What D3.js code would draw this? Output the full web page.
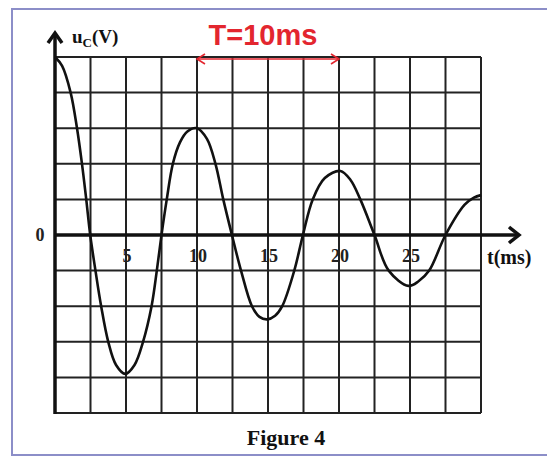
<!DOCTYPE html>
<html>
<head>
<meta charset="utf-8">
<script src="https://cdn.jsdelivr.net/npm/d3@7"></script>
<style>
    html, body { margin: 0; padding: 0; background: #fff; }
    svg { display: block; }
</style>
</head>
<body>
<div class="main"></div>
<script>
"use strict";

// time axis (ms) and voltage in grid divisions
var tValues = [0, 0.5, 1.1, 1.55, 1.9, 2.2, 2.48, 2.85, 3.25, 3.75, 4.3, 4.95, 5.6, 6.2, 6.8, 7.17, 7.5, 7.87, 8.3, 8.8, 9.3, 10,
    10.7, 11.3, 11.85, 12.46, 13.1, 13.87, 14.4, 14.95, 15.5, 16.0, 16.85, 17.46, 18.15, 19.0, 20.1,
    20.8, 21.5, 22.5, 23.5, 24.9, 25.6, 26.35, 27.5, 28.85, 29.5, 30];
var uValues = [5, 4.75, 4, 3, 2, 1, 0, -1, -2, -3, -3.65, -3.9, -3.65, -3, -2, -1, 0, 1, 2, 2.6, 2.9, 3.0,
    2.7, 2, 1, 0, -1, -2, -2.3, -2.37, -2.27, -2, -1, 0, 1, 1.6, 1.8,
    1.55, 1, 0, -1, -1.43, -1.3, -1, 0, 0.85, 1.05, 1.12];
var tickLabels = [5, 10, 15, 20, 25];
var periodStart = 10, periodEnd = 20;

var W = 547, H = 459;

var svg = d3.select('div.main').append('svg')
    .attr('width', W)
    .attr('height', H);

var x = d3.scaleLinear().domain([0, 30]).range([55, 481]);
var y = d3.scaleLinear().domain([-5, 5]).range([413, 57]);

// outer frame
svg.append('rect')
    .attr('x', 12).attr('y', 9)
    .attr('width', 600).attr('height', 446)
    .attr('fill', '#fff')
    .attr('stroke', '#8c8ec8')
    .attr('stroke-width', 2);

// grid
var grid = svg.append('g').attr('stroke', '#222').attr('stroke-width', 2);
grid.selectAll('line.v')
    .data(d3.range(0, 30.01, 2.5))
    .enter().append('line')
    .attr('class', 'v')
    .attr('x1', function (d) { return x(d); })
    .attr('x2', function (d) { return x(d); })
    .attr('y1', y(5)).attr('y2', y(-5));
grid.selectAll('line.h')
    .data(d3.range(-5, 5.01, 1))
    .enter().append('line')
    .attr('class', 'h')
    .attr('y1', function (d) { return y(d); })
    .attr('y2', function (d) { return y(d); })
    .attr('x1', x(0)).attr('x2', x(30));

// axes
var axes = svg.append('g').attr('stroke', '#111').attr('stroke-width', 3.5).attr('fill', 'none');
axes.append('line').attr('x1', x(0)).attr('x2', x(0)).attr('y1', y(-5) + 1).attr('y2', 33);
axes.append('path').attr('d', 'M' + (x(0) - 7) + ',' + 43 + 'L' + x(0) + ',' + 33 + 'L' + (x(0) + 7) + ',' + 43);
axes.append('line').attr('x1', x(0)).attr('x2', 519).attr('y1', y(0)).attr('y2', y(0));
axes.append('path').attr('d', 'M' + 509 + ',' + (y(0) - 8) + 'L' + 519 + ',' + y(0) + 'L' + 509 + ',' + (y(0) + 8));

// curve
var line = d3.line()
    .x(function (d) { return x(d[0]); })
    .y(function (d) { return y(d[1]); })
    .curve(d3.curveCatmullRom.alpha(0.5));
svg.append('path')
    .datum(d3.zip(tValues, uValues))
    .attr('d', line)
    .attr('fill', 'none')
    .attr('stroke', '#111')
    .attr('stroke-width', 2.6);

// labels
var serif = '"Liberation Serif", "DejaVu Serif", serif';
svg.selectAll('text.tick')
    .data(tickLabels)
    .enter().append('text')
    .attr('class', 'tick')
    .attr('x', function (d) { return x(d) + 1; })
    .attr('y', y(0) + 27)
    .attr('text-anchor', 'middle')
    .attr('font-family', serif)
    .attr('font-weight', 'bold')
    .attr('font-size', 18)
    .attr('fill', '#222')
    .text(function (d) { return d; });

svg.append('text')
    .attr('x', 40).attr('y', y(0) + 6)
    .attr('text-anchor', 'middle')
    .attr('font-family', serif).attr('font-weight', 'bold').attr('font-size', 18)
    .attr('fill', '#222')
    .text('0');

svg.append('text')
    .attr('x', 487).attr('y', y(0) + 29)
    .attr('font-family', serif).attr('font-weight', 'bold').attr('font-size', 20)
    .attr('fill', '#111')
    .text('t(ms)');

var ylab = svg.append('text')
    .attr('x', 72).attr('y', 43)
    .attr('font-family', serif).attr('font-weight', 'bold').attr('font-size', 19)
    .attr('fill', '#111');
ylab.append('tspan').text('u');
ylab.append('tspan').attr('font-size', 13).attr('dy', 4).text('C');
ylab.append('tspan').attr('dy', -4).text('(V)');

svg.append('text')
    .attr('x', 286).attr('y', 445)
    .attr('text-anchor', 'middle')
    .attr('font-family', serif).attr('font-weight', 'bold').attr('font-size', 22)
    .attr('fill', '#111')
    .text('Figure 4');

// period annotation
var red = '#e3262f';
var ann = svg.append('g').attr('stroke', red).attr('stroke-width', 1.6).attr('fill', 'none');
ann.append('line').attr('x1', x(periodStart)).attr('x2', x(periodEnd)).attr('y1', 59).attr('y2', 59);
ann.append('path').attr('d', 'M' + (x(periodStart) + 8) + ',54L' + x(periodStart) + ',59L' + (x(periodStart) + 8) + ',64');
ann.append('path').attr('d', 'M' + (x(periodEnd) - 8) + ',54L' + x(periodEnd) + ',59L' + (x(periodEnd) - 8) + ',64');

svg.append('text')
    .attr('x', 263).attr('y', 45)
    .attr('text-anchor', 'middle')
    .attr('font-family', '"Liberation Sans", Arial, sans-serif')
    .attr('font-weight', 'bold').attr('font-size', 29)
    .attr('fill', red)
    .text('T=10ms');
</script>
</body>
</html>
